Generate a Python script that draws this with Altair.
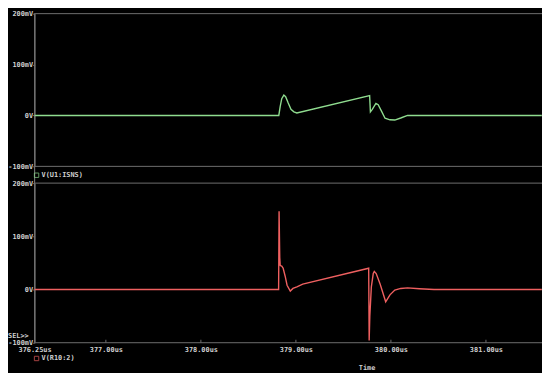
import altair as alt
import pandas as pd

# ---- data ----
green_t = [376.25, 378.820, 378.835, 378.851, 378.873, 378.892, 378.918, 378.948, 378.979, 379.010,
           379.776, 379.784, 379.804, 379.842, 379.866, 379.902, 379.938, 379.990, 380.041, 380.103,
           380.175, 381.588]
green_v = [0, 0, 18, 33, 40, 37, 25, 12, 7, 5,
           39, 7, 12, 23.5, 21, 8, -5.5, -8.5, -9, -5,
           0, 0]

red_t = [376.25, 378.818, 378.823, 378.830, 378.835, 378.851, 378.866, 378.887, 378.907, 378.941,
         378.969, 379.010, 379.072, 379.766, 379.771, 379.778, 379.794, 379.814, 379.825, 379.845,
         379.887, 379.945, 379.990, 380.041, 380.103, 380.175, 380.299, 380.454, 381.588]
red_v = [0, 0, 147, 60, 45, 44, 40, 25, 8, -3,
         2, 5, 10, 40, -96, -50, 5, 30, 34, 30,
         10, -23, -10, -1, 2, 3, 1.5, 0, 0]

y_ticks = [-100, 0, 100, 200]
frame_levels = [-100, 200]
x_ticks = [376.25, 377.0, 378.0, 379.0, 380.0, 381.0]
x_domain = [376.25, 381.59]

top_label = "V(U1:ISNS)"
bottom_label = "V(R10:2)"
sel_label = "SEL>>"
x_title = "Time"

# ---- styles ----
BG = "#000000"
GRID = "#707070"
TXT = "#cfcfcf"
GREEN = "#8fdc8f"
RED = "#ef6060"
FONT = "DejaVu Sans Mono"
FS = 7

W, H = 542, 365
X0 = 27
TOP_RANGE = [158, 3]
BOT_RANGE = [337, 175]

green_df = pd.DataFrame({"t": green_t, "v": green_v})
red_df = pd.DataFrame({"t": red_t, "v": red_v})
frame_df = pd.DataFrame({"lvl": frame_levels})
xt_df = pd.DataFrame({"t": x_ticks})

xscale = alt.Scale(domain=x_domain, range=[X0, W], nice=False, zero=False)
xaxis = alt.Axis(values=x_ticks, labelExpr="format(datum.value, '.2f') + 'us'",
                 orient="bottom", offset=-(H - BOT_RANGE[0]), ticks=False, domain=False,
                 grid=False, labelPadding=3, labelFont=FONT, labelFontSize=FS,
                 labelFontWeight="bold", labelColor=TXT, labelFlush=False, labelOverlap=False,
                 title=x_title, titleX=364, titleY=21, titleBaseline="top", titleFont=FONT,
                 titleFontSize=FS, titleFontWeight="bold", titleColor=TXT)


def yaxis():
    return alt.Axis(values=y_ticks, orient="left", offset=-X0,
                    labelExpr="datum.value == 0 ? '0V' : datum.value + 'mV'",
                    grid=False, domain=True, domainColor=GRID, tickColor=GRID, tickSize=2,
                    labelPadding=0, labelFont=FONT, labelFontSize=FS, labelFontWeight="bold",
                    labelColor=TXT, title=None, labelOverlap=False, labelFlush=False)


top_y = alt.Scale(domain=[-100, 200], range=TOP_RANGE, nice=False, zero=False)
bot_y = alt.Scale(domain=[-100, 200], range=BOT_RANGE, nice=False, zero=False)

top_line = alt.Chart(green_df).mark_line(color=GREEN, strokeWidth=1.4, clip=False).encode(
    x=alt.X("t:Q", scale=xscale, axis=xaxis),
    y=alt.Y("v:Q", scale=top_y, axis=yaxis()),
)
bot_line = alt.Chart(red_df).mark_line(color=RED, strokeWidth=1.4, clip=False).encode(
    x=alt.X("t:Q", scale=xscale, axis=xaxis),
    y=alt.Y("v:Q", scale=bot_y, axis=yaxis()),
)

top_frame = alt.Chart(frame_df).mark_rule(color=GRID, strokeWidth=1).encode(
    x=alt.value(X0), x2=alt.value(W),
    y=alt.Y("lvl:Q", scale=top_y, axis=None),
)
bot_frame = alt.Chart(frame_df).mark_rule(color=GRID, strokeWidth=1).encode(
    x=alt.value(X0), x2=alt.value(W),
    y=alt.Y("lvl:Q", scale=bot_y, axis=None),
)
vline = alt.Chart(frame_df).mark_rule(color=GRID, strokeWidth=1).encode(
    x=alt.value(X0), y=alt.value(TOP_RANGE[1]), y2=alt.value(BOT_RANGE[0]),
)
xticks = alt.Chart(xt_df).mark_rule(color=GRID, strokeWidth=1).encode(
    x=alt.X("t:Q", scale=xscale, axis=xaxis),
    y=alt.value(BOT_RANGE[0] - 3), y2=alt.value(BOT_RANGE[0]),
)

one = pd.DataFrame({"k": [0]})


def label(txt, x, y, align="left"):
    return alt.Chart(one).mark_text(font=FONT, fontSize=FS, fontWeight="bold", color=TXT,
                                    align=align, baseline="middle").encode(
        x=alt.value(x), y=alt.value(y), text=alt.value(txt))


def box(color, x, y):
    return alt.Chart(one).mark_square(filled=False, color=color, size=20, strokeWidth=1).encode(
        x=alt.value(x), y=alt.value(y))


chart = alt.layer(
    top_frame, bot_frame, vline, xticks,
    top_line, bot_line,
    box(GREEN, 29, 167), label(top_label, 34, 167),
    box(RED, 29, 353), label(bottom_label, 34, 353),
    label(sel_label, 0, 330),
).resolve_scale(y="independent").properties(
    width=W, height=H, background=BG,
    autosize=alt.AutoSizeParams(type="none"), padding=0,
).configure_view(stroke=None, fill=BG)

chart.save("out.html", embed_options={"renderer": "svg", "actions": False})
